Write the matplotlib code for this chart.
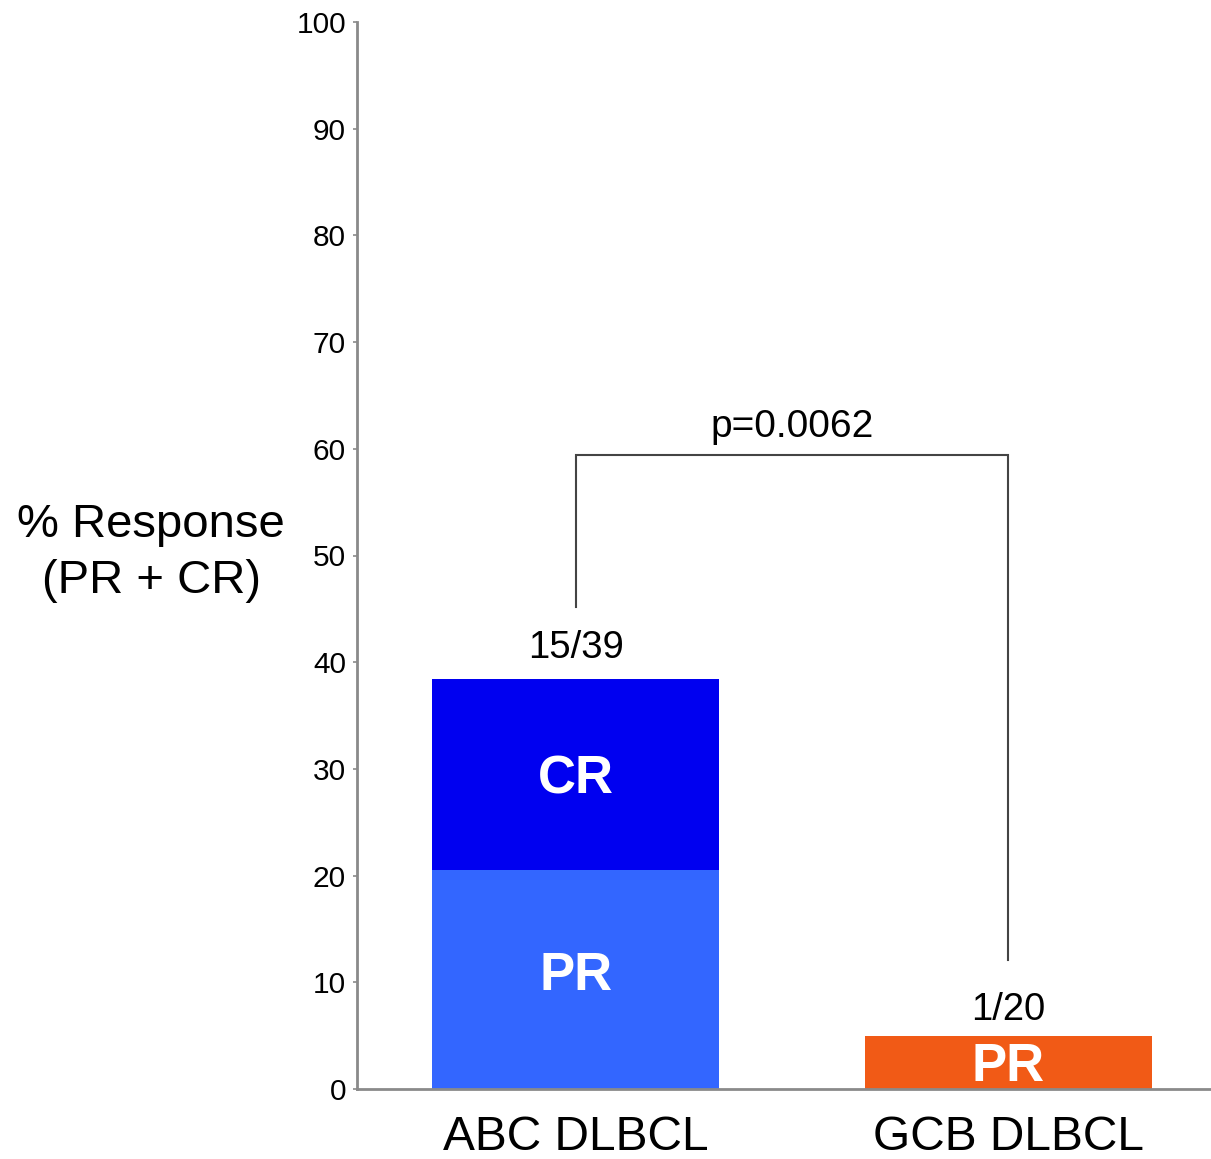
import matplotlib
matplotlib.use("Agg")
import matplotlib.pyplot as plt

plt.rcParams['font.family'] = ['Liberation Sans', 'DejaVu Sans']

categories = ["ABC DLBCL", "GCB DLBCL"]
pr_values = [8 / 39 * 100, 1 / 20 * 100]
cr_values = [7 / 39 * 100, 0.0]
count_labels = ["15/39", "1/20"]
pr_colors = ["#3366FF", "#F15A16"]
cr_color = "#0000F0"
yticks = [0, 10, 20, 30, 40, 50, 60, 70, 80, 90, 100]
p_text = "p=0.0062"
bracket_left_y = 45.2
bracket_top_y = 59.4
bracket_right_y = 12.1

fig = plt.figure(figsize=(12.11, 11.59), dpi=100)
ax = fig.add_axes([357 / 1211, 1 - 1089 / 1159, 1 - 357 / 1211, (1089 - 22) / 1159])

x = list(range(len(categories)))
width = 0.663
ax.bar(x, pr_values, width=width, color=pr_colors, linewidth=0)
ax.bar(x, cr_values, width=width, bottom=pr_values, color=cr_color, linewidth=0)

ax.set_xlim(-0.505, 1.468)
ax.set_ylim(0, 100)

for s in ["top", "right"]:
    ax.spines[s].set_visible(False)
for s in ["left", "bottom"]:
    ax.spines[s].set_color("#8a8a8a")
    ax.spines[s].set_linewidth(2)

ax.set_yticks(yticks)
ax.set_yticklabels([str(t) for t in yticks], fontsize=21.5)
ax.tick_params(axis='y', length=3, width=1.2, color="#8a8a8a", pad=5)
ax.set_xticks(x)
ax.set_xticklabels(categories, fontsize=34.5)
ax.tick_params(axis='x', length=0, pad=19)

ax.set_ylabel("% Response\n(PR + CR)", fontsize=34, rotation=0,
              ha='center', va='center', linespacing=1.38)
ax.yaxis.set_label_coords(-(357 - 151) / 854, (1089 - 553) / 1067)

# segment labels
for i in x:
    if cr_values[i] > 0:
        ax.text(i, pr_values[i] + cr_values[i] / 2 - 0.45, "CR", color="white",
                fontsize=38, fontweight='bold', ha='center', va='center')
    ax.text(i, pr_values[i] / 2 + (0.3 if cr_values[i] > 0 else -0.45), "PR", color="white",
            fontsize=38, fontweight='bold', ha='center', va='center')
    total = pr_values[i] + cr_values[i]
    ax.text(i, total + (2.9 if i == 0 else 2.45), count_labels[i], fontsize=27.5,
            ha='center', va='center')

# significance bracket
ax.plot([x[0], x[0], x[1], x[1]],
        [bracket_left_y, bracket_top_y, bracket_top_y, bracket_right_y],
        color="#444444", linewidth=1.5, solid_joinstyle='miter')
ax.text((x[0] + x[1]) / 2, bracket_top_y + 2.6, p_text, fontsize=28,
        ha='center', va='center')

fig.savefig("out.png", dpi=100)
